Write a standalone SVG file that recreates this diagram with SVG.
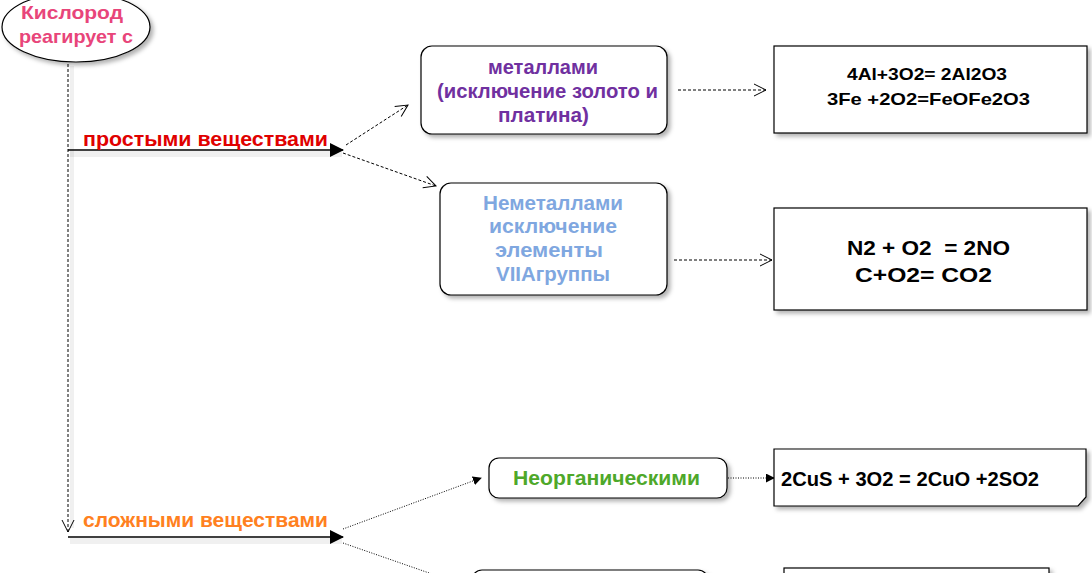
<svg xmlns="http://www.w3.org/2000/svg" width="1092" height="573" viewBox="0 0 1092 573">
<defs>
<style>
text{font-family:"Liberation Sans",Arial,sans-serif;font-weight:bold;text-anchor:middle}
.box{fill:#fff;stroke:#000;stroke-width:1.2}
.dash{fill:none;stroke:#000;stroke-width:1;stroke-dasharray:3,2}
.dot{fill:none;stroke:#000;stroke-width:1;stroke-dasharray:1,1.5}
.solid{fill:none;stroke:#000;stroke-width:1.5}
.lshadow{fill:#000;opacity:0.06}
</style>
<filter id="sh" x="-10%" y="-10%" width="130%" height="140%">
<feDropShadow dx="3" dy="3" stdDeviation="2" flood-color="#000" flood-opacity="0.3"/>
</filter>
<marker id="open" viewBox="0 0 14 14" refX="13" refY="7" markerWidth="14" markerHeight="14" markerUnits="userSpaceOnUse" orient="auto">
<path d="M1,1 L13,7 L1,13" fill="none" stroke="#000" stroke-width="1"/>
</marker>
<marker id="tri" viewBox="0 0 14 14" refX="13" refY="7" markerWidth="14" markerHeight="14" markerUnits="userSpaceOnUse" orient="auto">
<path d="M0,0 L14,7 L0,14 Z" fill="#000"/>
</marker>
<marker id="small" viewBox="0 0 10 10" refX="9" refY="5" markerWidth="9" markerHeight="9" markerUnits="userSpaceOnUse" orient="auto">
<path d="M0,0 L10,5 L0,10 Z" fill="#000"/>
</marker>
</defs>
<rect width="1092" height="573" fill="#fff"/>

<g id="connectors">
<rect class="lshadow" x="70" y="151" width="272" height="6"/>
<rect class="lshadow" x="70" y="538" width="272" height="6"/>
<rect class="lshadow" x="70" y="66" width="4" height="462"/>
<line class="dash" x1="68" y1="64" x2="68" y2="532" marker-end="url(#open)"/>
<line class="solid" x1="68" y1="150" x2="343" y2="150" marker-end="url(#tri)"/>
<line class="solid" x1="68" y1="537" x2="343" y2="537" marker-end="url(#tri)"/>
<line class="dash" x1="346" y1="145" x2="408" y2="105" marker-end="url(#open)"/>
<line class="dash" x1="343" y1="153" x2="436" y2="186" marker-end="url(#open)"/>
<line class="dash" x1="678" y1="90" x2="766" y2="90" marker-end="url(#open)"/>
<line class="dash" x1="674" y1="260" x2="772" y2="260" marker-end="url(#open)"/>
<line class="dot" x1="343" y1="529" x2="481" y2="478" marker-end="url(#small)"/>
<line class="dot" x1="343" y1="543" x2="432" y2="574"/>
<line class="dot" x1="728" y1="478" x2="774" y2="478" marker-end="url(#small)"/>
</g>

<g id="start">
<ellipse cx="76" cy="27" rx="74" ry="35" class="box" filter="url(#sh)"/>
<text x="72" y="19" font-size="19" fill="#E8457A" textLength="102" lengthAdjust="spacingAndGlyphs">Кислород</text>
<text x="76" y="43" font-size="19" fill="#E8457A" textLength="114" lengthAdjust="spacingAndGlyphs">реагирует с</text>
</g>

<g id="label-simple">
<text x="205.5" y="146" font-size="21" fill="#E00000" textLength="245" lengthAdjust="spacingAndGlyphs">простыми веществами</text>
</g>
<g id="label-complex">
<text x="205.5" y="527" font-size="21" fill="#FF8020" textLength="245" lengthAdjust="spacingAndGlyphs">сложными веществами</text>
</g>

<g id="metals">
<rect x="421" y="46" width="246" height="88" rx="11" class="box" filter="url(#sh)"/>
<text x="543" y="74" font-size="20" fill="#7030A0" textLength="110" lengthAdjust="spacingAndGlyphs">металлами</text>
<text x="547.5" y="98" font-size="20" fill="#7030A0" textLength="221" lengthAdjust="spacingAndGlyphs">(исключение золото и</text>
<text x="543.5" y="122" font-size="20" fill="#7030A0" textLength="91" lengthAdjust="spacingAndGlyphs">платина)</text>
</g>

<g id="formula-metals">
<rect x="774" y="46" width="313" height="87" class="box" filter="url(#sh)"/>
<text x="927" y="80" font-size="17" fill="#000" textLength="160" lengthAdjust="spacingAndGlyphs">4Al+3O2= 2Al2O3</text>
<text x="928.5" y="105" font-size="17" fill="#000" textLength="203" lengthAdjust="spacingAndGlyphs">3Fe +2O2=FeOFe2O3</text>
</g>

<g id="nonmetals">
<rect x="440" y="183" width="227" height="112" rx="11" class="box" filter="url(#sh)"/>
<text x="553" y="210" font-size="20" fill="#7FA7E0" textLength="140" lengthAdjust="spacingAndGlyphs">Неметаллами</text>
<text x="553" y="233" font-size="20" fill="#7FA7E0" textLength="128" lengthAdjust="spacingAndGlyphs">исключение</text>
<text x="549" y="257" font-size="20" fill="#7FA7E0" textLength="108" lengthAdjust="spacingAndGlyphs">элементы</text>
<text x="553" y="281" font-size="20" fill="#7FA7E0" textLength="114" lengthAdjust="spacingAndGlyphs">VIIАгруппы</text>
</g>

<g id="formula-nonmetals">
<rect x="774" y="208" width="313" height="102" class="box" filter="url(#sh)"/>
<text x="928.5" y="255" font-size="21" fill="#000" textLength="163" lengthAdjust="spacingAndGlyphs" xml:space="preserve">N2 + O2  = 2NO</text>
<text x="923.5" y="282" font-size="21" fill="#000" textLength="137" lengthAdjust="spacingAndGlyphs">C+O2= CO2</text>
</g>

<g id="inorganic">
<rect x="489" y="458" width="238" height="40" rx="10" class="box" filter="url(#sh)"/>
<text x="606.5" y="485" font-size="20" fill="#4EA82A" textLength="187" lengthAdjust="spacingAndGlyphs">Неорганическими</text>
</g>

<g id="formula-inorganic">
<path d="M774,449 H1086 V497 L1078,506 H774 Z" class="box" filter="url(#sh)"/>
<text x="781" y="486" font-size="21" fill="#000" style="text-anchor:start" textLength="258" lengthAdjust="spacingAndGlyphs">2CuS + 3O2 = 2CuO +2SO2</text>
</g>

<g id="organic">
<rect x="472" y="570" width="236" height="40" rx="10" class="box" filter="url(#sh)"/>
</g>
<g id="formula-organic">
<rect x="784" y="568" width="265" height="40" class="box" filter="url(#sh)"/>
</g>
</svg>
